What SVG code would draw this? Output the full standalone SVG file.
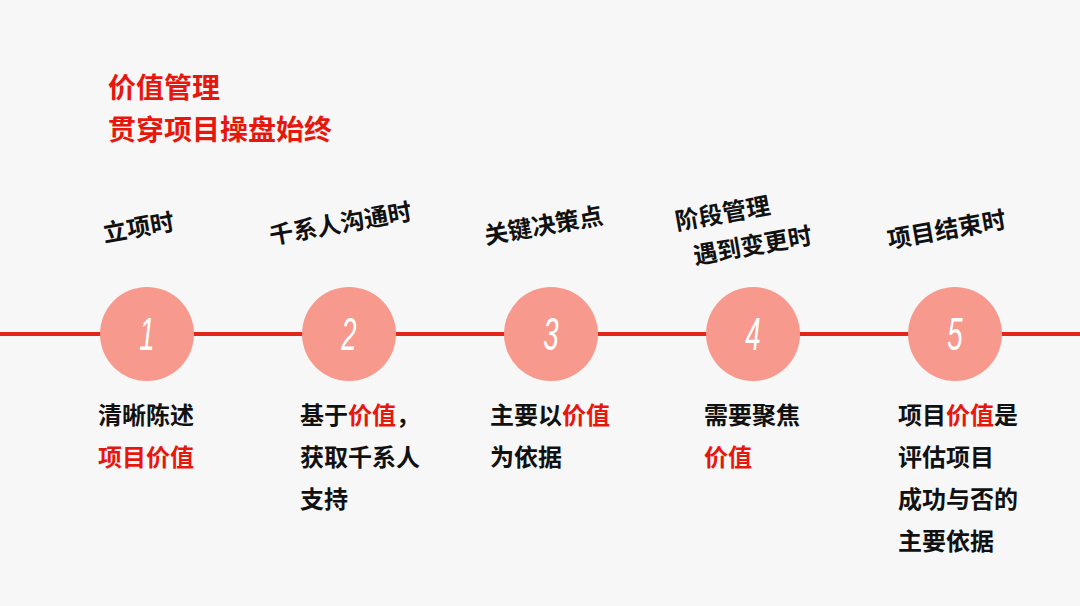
<svg xmlns="http://www.w3.org/2000/svg" width="1080" height="606" viewBox="0 0 1080 606">
<style>
.t{font-family:"Noto Sans CJK SC","Liberation Sans",sans-serif;font-weight:bold}
.title{fill:#e8170e;font-size:28px}
.lab{font-size:24px;fill:#111;text-anchor:middle}
.body{font-size:24px;fill:#111}
.r{fill:#e8170e}
.c{fill:#f7998c}
.n{font-family:"Liberation Sans",sans-serif;font-style:italic;font-size:46px;fill:#fff;text-anchor:middle}
</style>
<rect width="1080" height="606" fill="#f7f7f7"/>
<text class="t title" x="108" y="98">价值管理</text>
<text class="t title" x="108" y="140">贯穿项目操盘始终</text>
<g id="connectors"><line x1="0" y1="334" x2="1080" y2="334" stroke="#e3261b" stroke-width="4"/></g>
<g id="n1"><circle class="c" cx="147" cy="334" r="47"/><text class="n" transform="translate(147,350) scale(0.6,1)">1</text>
<text class="t lab" transform="translate(140,236) rotate(-10)">立项时</text>
<text class="t body" x="98" y="424">清晰陈述</text><text class="t body r" x="98" y="466">项目价值</text></g>
<g id="n2"><circle class="c" cx="349" cy="334" r="47"/><text class="n" transform="translate(349,350) scale(0.6,1)">2</text>
<text class="t lab" transform="translate(342,232) rotate(-10)">千系人沟通时</text>
<text class="t body" x="300" y="424">基于<tspan class="r">价值</tspan>，</text><text class="t body" x="300" y="466">获取千系人</text><text class="t body" x="300" y="508">支持</text></g>
<g id="n3"><circle class="c" cx="551" cy="334" r="47"/><text class="n" transform="translate(551,350) scale(0.6,1)">3</text>
<text class="t lab" transform="translate(545,234) rotate(-10)">关键决策点</text>
<text class="t body" x="490" y="424">主要以<tspan class="r">价值</tspan></text><text class="t body" x="490" y="466">为依据</text></g>
<g id="n4"><circle class="c" cx="753" cy="334" r="47"/><text class="n" transform="translate(753,350) scale(0.6,1)">4</text>
<text class="t lab" transform="translate(724,222) rotate(-10)">阶段管理</text>
<text class="t lab" transform="translate(754,254) rotate(-10)">遇到变更时</text>
<text class="t body" x="704" y="424">需要聚焦</text><text class="t body r" x="704" y="466">价值</text></g>
<g id="n5"><circle class="c" cx="955" cy="334" r="47"/><text class="n" transform="translate(955,350) scale(0.6,1)">5</text>
<text class="t lab" transform="translate(948,238) rotate(-10)">项目结束时</text>
<text class="t body" x="898" y="424">项目<tspan class="r">价值</tspan>是</text><text class="t body" x="898" y="466">评估项目</text><text class="t body" x="898" y="508">成功与否的</text><text class="t body" x="898" y="550">主要依据</text></g>
</svg>
